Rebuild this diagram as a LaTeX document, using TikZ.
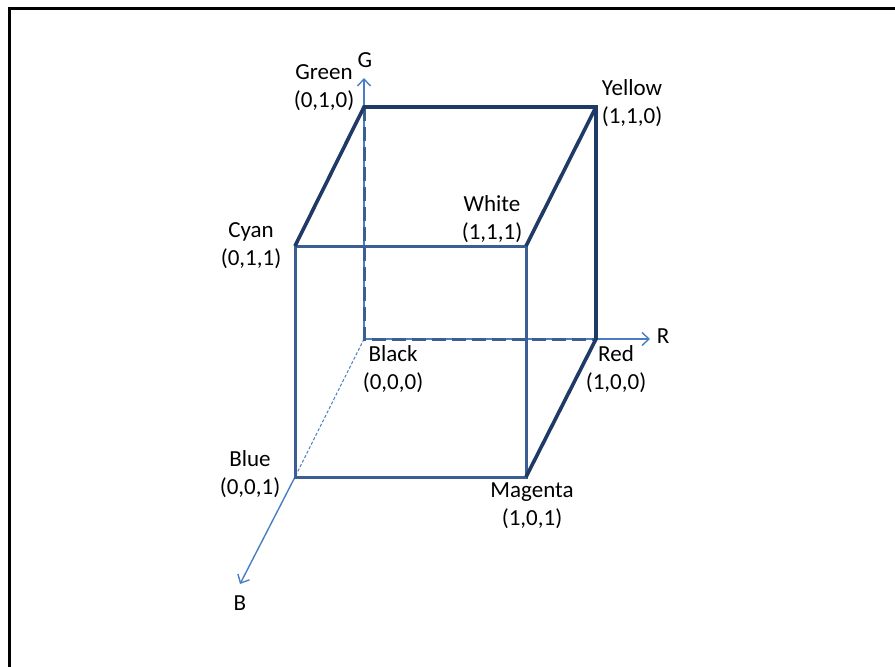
\documentclass[tikz,border=0pt]{standalone}
\usepackage{fontspec}
\setmainfont{Carlito}
\usetikzlibrary{arrows.meta}
\definecolor{axisblue}{HTML}{4A7EC4}
\definecolor{frontblue}{HTML}{3B5F95}
\definecolor{backblue}{HTML}{1F3A66}
\tikzset{
  lbl/.style={align=center, font=\fontsize{23}{28}\selectfont, inner sep=0pt},
  axislbl/.style={font=\fontsize{23}{28}\selectfont, inner sep=0pt},
  axisline/.style={draw=axisblue, line width=1.4pt, -{Straight Barb[length=7pt,width=13pt]}},
  frontedge/.style={draw=frontblue, line width=3pt, line join=miter},
  backedge/.style={draw=backblue, line width=3.6pt, line join=miter},
  dashedge/.style={draw=frontblue, line width=3pt, dash pattern=on 14pt off 6pt},
  dashaxis/.style={draw=axisblue, line width=1.1pt, dash pattern=on 3pt off 2pt},
  frameline/.style={draw=black, line width=3pt}
}
\begin{document}
\begin{tikzpicture}[x=1pt,y=-1pt]
\useasboundingbox (0,0) rectangle (895,667);
\clip (0,0) rectangle (895,667);
\fill[white] (0,0) rectangle (895,667);
\draw[frameline] (9,700) -- (9,8) -- (920,8);
% corners
\coordinate (K) at (364,339);
\coordinate (R) at (596,339);
\coordinate (G) at (364,107);
\coordinate (Y) at (596,107);
\coordinate (C) at (295,246);
\coordinate (W) at (526,246);
\coordinate (Bl) at (295,477);
\coordinate (M) at (526,477);
\coordinate (Gend) at (364,78);
\coordinate (Rend) at (650,339);
\coordinate (Bend) at (240,584);
% hidden edges and axes
\draw[dashaxis] (K) -- (Bl);
\draw[axisline] (Bl) -- (Bend);
\draw[axisline] (K) -- (Gend);
\draw[axisline] (K) -- (Rend);
\draw[dashedge] (G) -- (K) -- (R);
% front face
\draw[frontedge] (C) -- (W) -- (M) -- (Bl) -- cycle;
% back edges
\draw[backedge] (C) -- (G) -- (Y) -- (R) -- (M);
\draw[backedge] (Y) -- (W);
% labels
\node[axislbl] (gl) at (365,60) {G};
\node[axislbl] (rl) at (663,336) {R};
\node[axislbl] (bl) at (240,603) {B};
\node[lbl] (green) at (324,88) {Green\\(0,1,0)};
\node[lbl] (yellow) at (632,103) {Yellow\\(1,1,0)};
\node[lbl] (white) at (492,219) {White\\(1,1,1)};
\node[lbl] (cyan) at (251,246) {Cyan\\(0,1,1)};
\node[lbl] (black) at (393,369) {Black\\(0,0,0)};
\node[lbl] (red) at (616,369) {Red\\(1,0,0)};
\node[lbl] (blue) at (250,474) {Blue\\(0,0,1)};
\node[lbl] (magenta) at (532,506) {Magenta\\(1,0,1)};
\end{tikzpicture}
\end{document}
